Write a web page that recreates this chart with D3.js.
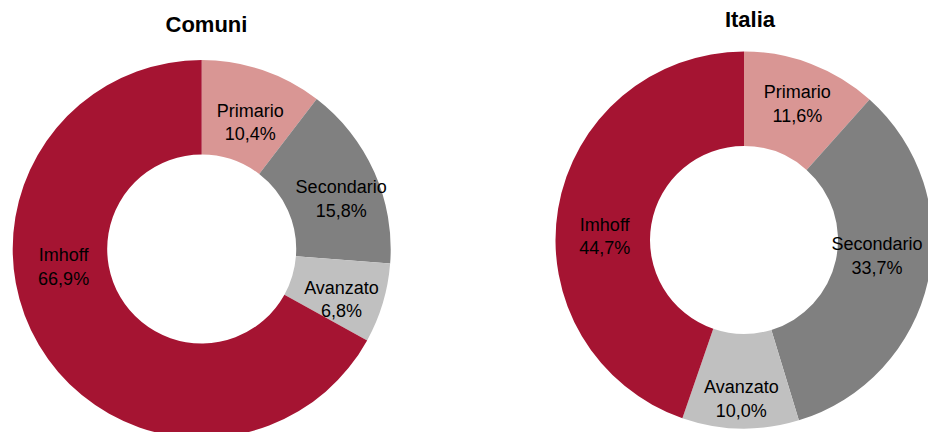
<!DOCTYPE html>
<html>
<head>
<meta charset="utf-8">
<script src="https://cdn.jsdelivr.net/npm/d3@7"></script>
<style>
  html, body { margin: 0; padding: 0; background: #fff; }
  svg { display: block; }
  text { font-family: "Liberation Sans", Arial, sans-serif; }
</style>
</head>
<body>
<div id="chart"></div>
<script>
// categories, clockwise from 12 o'clock
const categories = ["Primario", "Secondario", "Avanzato", "Imhoff"];
const colors = ["#D99694", "#808080", "#C0C0C0", "#A51432"];

const titles = ["Comuni", "Italia"];
const comuniValues = [10.4, 15.8, 6.8, 66.9];
const italiaValues = [11.6, 33.7, 10.0, 44.7];

// label nudges from the arc centroid (px), as placed in the original
const comuniNudge = [[3, 8], [10, 8], [4, 10], [-16, -54]];
const italiaNudge = [[3, -4], [-5, -14], [0, 18], [0, 20]];

const width = 928, height = 432;

const svg = d3.select("#chart").append("svg")
  .attr("width", width)
  .attr("height", height);

const fmt = v => d3.format(".1f")(v).replace(".", ",") + "%";

function drawDonut({ title, values, nudge, cx, cy, outer, inner, titleX, titleY }) {
  const data = categories.map((c, i) => ({ name: c, value: values[i], color: colors[i], nudge: nudge[i] }));

  const pie = d3.pie().sort(null).value(d => d.value);
  const arc = d3.arc().innerRadius(inner).outerRadius(outer);

  const g = svg.append("g").attr("transform", `translate(${cx},${cy})`);

  g.selectAll("path")
    .data(pie(data))
    .enter().append("path")
    .attr("d", arc)
    .attr("fill", d => d.data.color);

  const labels = g.selectAll(".slice-label")
    .data(pie(data))
    .enter().append("text")
    .attr("class", "slice-label")
    .attr("text-anchor", "middle")
    .attr("font-size", 18)
    .attr("fill", "#000")
    .attr("transform", d => {
      const [x, y] = arc.centroid(d);
      return `translate(${x + d.data.nudge[0]},${y + d.data.nudge[1]})`;
    });

  labels.append("tspan").attr("x", 0).attr("y", -6).text(d => d.data.name);
  labels.append("tspan").attr("x", 0).attr("y", 17.5).text(d => fmt(d.data.value));

  svg.append("text")
    .attr("x", titleX)
    .attr("y", titleY)
    .attr("text-anchor", "middle")
    .attr("font-size", 22)
    .attr("font-weight", "bold")
    .attr("fill", "#000")
    .text(title);
}

drawDonut({ title: titles[0], values: comuniValues, nudge: comuniNudge,
  cx: 201.7, cy: 249, outer: 189, inner: 94.5, titleX: 206.5, titleY: 32 });
drawDonut({ title: titles[1], values: italiaValues, nudge: italiaNudge,
  cx: 744, cy: 240, outer: 188.5, inner: 94, titleX: 750, titleY: 27 });
</script>
</body>
</html>
